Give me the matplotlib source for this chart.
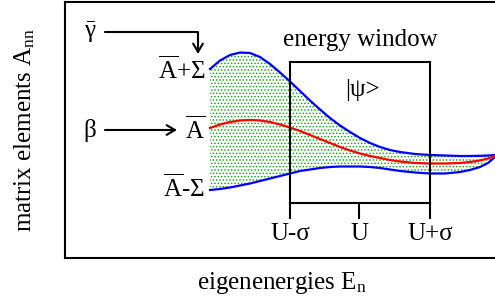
import matplotlib
matplotlib.use("Agg")
import matplotlib.pyplot as plt

plt.rcParams['font.family'] = ['Liberation Serif', 'DejaVu Serif']
plt.rcParams['mathtext.fontset'] = 'custom'
plt.rcParams['mathtext.rm'] = 'Liberation Serif'
plt.rcParams['mathtext.it'] = 'Liberation Serif'
plt.rcParams['hatch.linewidth'] = 0.7

# curve samples (energy axis x, matrix element y; pixel-like units, y downward)
x_pts = [210, 220, 230, 240, 250, 260, 270, 280, 290, 300, 310, 320, 330, 340, 350, 360, 370,
         380, 390, 400, 415, 430, 445, 460, 470, 480, 488, 495]
upper = [69, 60.5, 55, 52.5, 53, 57, 64, 72.5, 81.5, 91, 100.5, 109.5, 118, 125.5, 132, 138, 143,
         147, 150, 152, 154, 155, 155.5, 156, 156, 155.8, 155.5, 155]
mean = [128, 124.5, 122, 120.5, 120, 120.5, 122, 124.5, 127.5, 131, 135, 139, 143, 147, 150.5, 153.5, 156,
        158, 160, 161.5, 163, 163.5, 163.5, 163, 162, 160.5, 158.5, 156]
lower = [190, 189, 187.5, 185.5, 183.5, 181, 178.5, 176, 173.5, 171, 169.5, 168, 167, 166.5, 166.5, 166.5, 167,
         168, 169.5, 171, 172.5, 173.5, 173.5, 172, 170, 167, 163, 157]

# energy window
U_minus, U_c, U_plus = 290, 359, 430
win_top, win_bot, tick_end = 62, 203, 218
tick_labels = ['U-σ', 'U', 'U+σ']

fig = plt.figure(figsize=(4.95, 3.04), dpi=100)
ax = fig.add_axes([65 / 495, (304 - 258) / 304, (505 - 65) / 495, 256 / 304])
ax.set_xlim(65, 505)
ax.set_ylim(258, 2)
ax.set_xticks([])
ax.set_yticks([])
for s in ['left', 'top', 'bottom']:
    ax.spines[s].set_linewidth(1.5)
ax.spines['right'].set_visible(False)

ax.fill_between(x_pts, upper, lower, facecolor='none', edgecolor='#22a022', hatch='.....', linewidth=0)
ax.plot(x_pts, upper, color='#0000ff', lw=1.6, solid_joinstyle='round')
ax.plot(x_pts, lower, color='#0000ff', lw=1.6, solid_joinstyle='round')
ax.plot(x_pts, mean, color='#ff0000', lw=1.6, solid_joinstyle='round')

lw = 1.5
ax.plot([U_minus, U_minus], [win_top, tick_end], color='k', lw=lw)
ax.plot([U_plus, U_plus], [win_top, tick_end], color='k', lw=lw)
ax.plot([U_minus, U_plus], [win_top, win_top], color='k', lw=lw)
ax.plot([U_minus, U_plus], [win_bot, win_bot], color='k', lw=lw)
ax.plot([U_c, U_c], [win_bot, tick_end], color='k', lw=lw)

fs = 18
for xv, lab in zip([U_minus, U_c, U_plus], tick_labels):
    ax.text(xv, 234, lab, ha='center', va='center', fontsize=fs)

ax.text(360, 40, 'energy window', ha='center', va='center', fontsize=fs)
ax.text(362, 90, '|ψ>', ha='center', va='center', fontsize=fs)

ax.text(205, 70, r'$\overline{\mathrm{A}}$+Σ', ha='right', va='center', fontsize=fs)
ax.text(205, 130, r'$\overline{\mathrm{A}}$', ha='right', va='center', fontsize=fs)
ax.text(205, 188, r'$\overline{\mathrm{A}}$-Σ', ha='right', va='center', fontsize=fs)
ax.text(90, 32, r'$\bar{\mathrm{γ}}$', ha='center', va='center', fontsize=fs)
ax.text(90, 130, 'β', ha='center', va='center', fontsize=fs)

ax.annotate('', xy=(198, 54), xytext=(105, 32),
            arrowprops=dict(arrowstyle='->,head_length=0.6,head_width=0.35', lw=1.5,
                            connectionstyle='angle,angleA=0,angleB=90,rad=0',
                            shrinkA=0, shrinkB=0))
ax.annotate('', xy=(177, 130), xytext=(105, 130),
            arrowprops=dict(arrowstyle='->,head_length=0.6,head_width=0.35', lw=1.5,
                            shrinkA=0, shrinkB=0))

fig.text(25 / 495, 1 - 130 / 304, r'matrix elements A$_{\mathrm{nn}}$', rotation=90,
         ha='center', va='center', fontsize=fs)
fig.text(282 / 495, 1 - 283 / 304, r'eigenenergies E$_{\mathrm{n}}$', ha='center', va='center', fontsize=fs)

fig.savefig('out.png', dpi=100)
